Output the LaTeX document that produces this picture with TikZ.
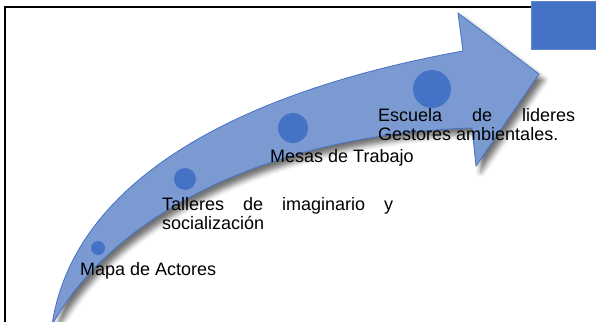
\documentclass[tikz,border=0pt]{standalone}
\usepackage{fontspec}
\setmainfont{Liberation Sans}
\usepackage{xcolor}
\usetikzlibrary{shadows.blur}
\definecolor{hitoblue}{HTML}{4472C4}
\definecolor{flechafill}{RGB}{124,154,210}
\hyphenpenalty=10000
\exhyphenpenalty=10000
\tolerance=10000
\newcommand{\etapafont}{\fontsize{18}{19}\selectfont}

\begin{document}
\begin{tikzpicture}[x=1pt, y=-1pt,
    hito/.style = {circle, fill=hitoblue, inner sep=0pt},
    etapa/.style = {anchor=base west, inner sep=0pt, font=\etapafont}]
    \useasboundingbox (0, 0) rectangle (596, 321);

    % marco y cuadro
    \draw[line width=1.8pt] (5, 330) -- (5, 7) -- (531, 7);
    \draw[hitoblue!85!white, fill=hitoblue] (531, 1) rectangle (600, 49);

    % flecha
    \begin{scope}
        \clip (0, 0) rectangle (596, 321);
        \draw[hitoblue, line width=0.8pt, fill=flechafill,
              blur shadow={shadow xshift=5pt, shadow yshift=-6pt, shadow blur radius=5pt, shadow opacity=55}]
            (52, 325) .. controls (72, 190) and (220, 95) .. (463, 51)
            -- (458, 13) -- (539, 74) -- (476, 166) -- (472, 128)
            .. controls (260, 135) and (110, 220) .. cycle;
    \end{scope}

    \node[hito, minimum size=14pt] (mapa) at (98, 248) {};
    \node[hito, minimum size=22pt] (talleres) at (185, 179) {};
    \node[hito, minimum size=30pt] (mesas) at (293, 128) {};
    \node[hito, minimum size=38pt] (escuela) at (432, 89) {};

    \node[etapa] (tmapa) at (80, 275) {Mapa de Actores};
    \node[etapa, text width=231pt, align=justify] (ttalleres) at (162, 210) {Talleres de imaginario y socialización};
    \node[etapa] (tmesas) at (270, 162) {Mesas de Trabajo};
    \node[etapa, text width=197pt, align=justify] (tescuela) at (378, 121) {Escuela de lideres Gestores ambientales.};
\end{tikzpicture}
\end{document}
